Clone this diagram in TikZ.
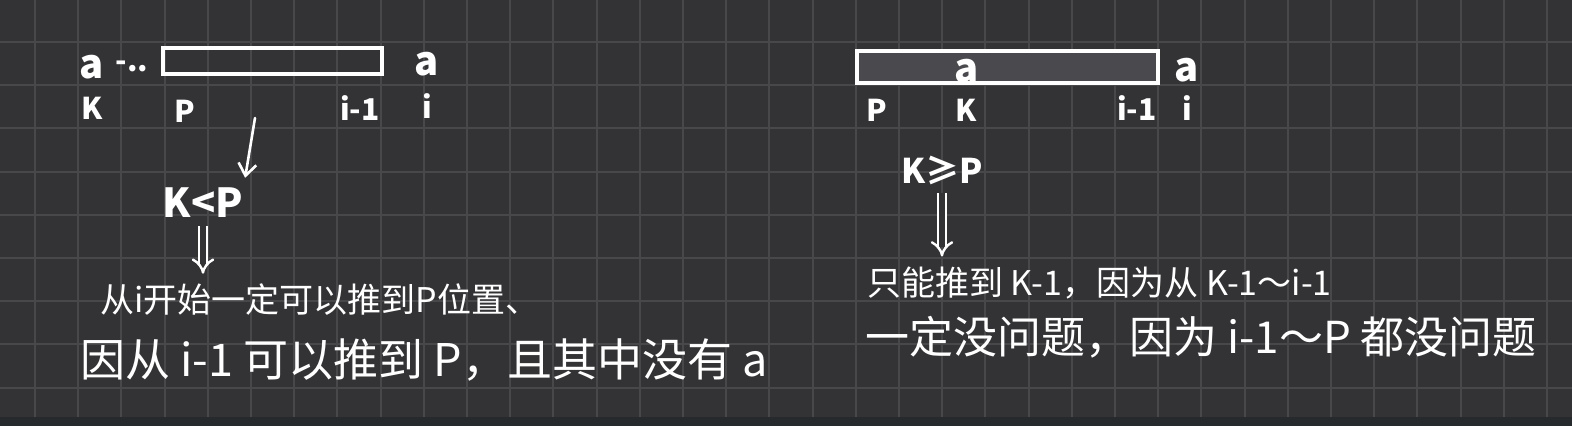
\documentclass[tikz,border=0pt]{standalone}
\usepackage{fontspec}
\setmainfont{Noto Sans CJK SC}
\usetikzlibrary{arrows.meta, positioning}

\definecolor{boardbg}{HTML}{333235}
\definecolor{gridln}{HTML}{48474A}
\definecolor{barbg}{HTML}{262A2C}
\definecolor{cellfill}{HTML}{4A494D}

\tikzset{
  chalk/.style={white, line width=1.3pt, line cap=round},
  barbox/.style={draw=white, line width=2pt, inner sep=0pt},
  lbl/.style={text=white, inner sep=0pt, font=\fontsize{15}{15}\selectfont\bfseries},
  lettera/.style={lbl, font=\fontsize{20}{20}\selectfont\bfseries},
  note/.style={text=white, inner sep=0pt, anchor=west},
  implies/.style={white, line width=1.2pt, double=boardbg, double distance=2.6pt,
    -{Implies[length=6pt, width=14pt]}, shorten <=4pt, shorten >=5pt},
}

\begin{document}
\begin{tikzpicture}[x=0.5pt, y=-0.5pt]
% board
\fill[boardbg] (0,0) rectangle (1572,426);
\useasboundingbox (0,0) rectangle (1572,426);
% grid
\foreach \k in {0,...,35}
    \draw[gridln, line width=1pt] (35+43.2*\k,0) -- (35+43.2*\k,417);
\foreach \k in {0,...,8}
    \draw[gridln, line width=1pt] (0,42+43.2*\k) -- (1572,42+43.2*\k);
\fill[barbg] (0,417) rectangle (1572,426);

% left case
\node (lbar) [barbox, minimum width=109.5pt, minimum height=13pt] at (272.5,61) {};
\node[lettera] (la1) at (92,67) {a};
\node[lbl] (ldots) at (132,66) {-..};
\node[lettera] (la2) at (427,64) {a};
\node[lbl] (lk) at (92,108) {K};
\node[lbl] (lp) at (185,111) {P};
\node[lbl] (li1) at (360,108) {i-1};
\node[lbl] (li) at (427,106) {i};
\coordinate (ltop) at (255,118);
\node[lbl, font=\fontsize{20}{20}\selectfont\bfseries] (lcmp) at (203,203) {K<P};
\draw[chalk, -{Straight Barb[length=6pt, width=9pt]}, shorten >=5pt] (ltop) -- (lcmp.north east);
\node[note, font=\fontsize{17}{17}\selectfont] (ltext1) at (100,300) {从i开始一定可以推到P位置、};
\node[note, font=\fontsize{22.5}{22.5}\selectfont] (ltext2) at (80,360) {因从 i-1 可以推到 P，且其中没有 a};
\draw[implies] (lcmp.south) -- (lcmp.south |- ltext1.north);

% right case
\node (rbar) [barbox, fill=cellfill, minimum width=150.5pt, minimum height=16pt] at (1007.5,67) {};
\node[lettera] (ra1) at (967,71) {a};
\node[lettera] (ra2) at (1187,70) {a};
\node[lbl] (rp) at (877,110) {P};
\node[lbl] (rk) at (966,110) {K};
\node[lbl] (ri1) at (1137,108) {i-1};
\node[lbl] (ri) at (1187,108) {i};
\node[lbl, font=\fontsize{17}{17}\selectfont\bfseries] (rcmp) at (942,170) {K≥P};
\node[note, font=\fontsize{17}{17}\selectfont] (rtext1) at (867,283) {只能推到 K-1，因为从 K-1～i-1};
\node[note, font=\fontsize{22}{22}\selectfont] (rtext2) at (865,337) {一定没问题，因为 i-1～P 都没问题};
\draw[implies] (rcmp.south) -- (rcmp.south |- rtext1.north);
\end{tikzpicture}
\end{document}
